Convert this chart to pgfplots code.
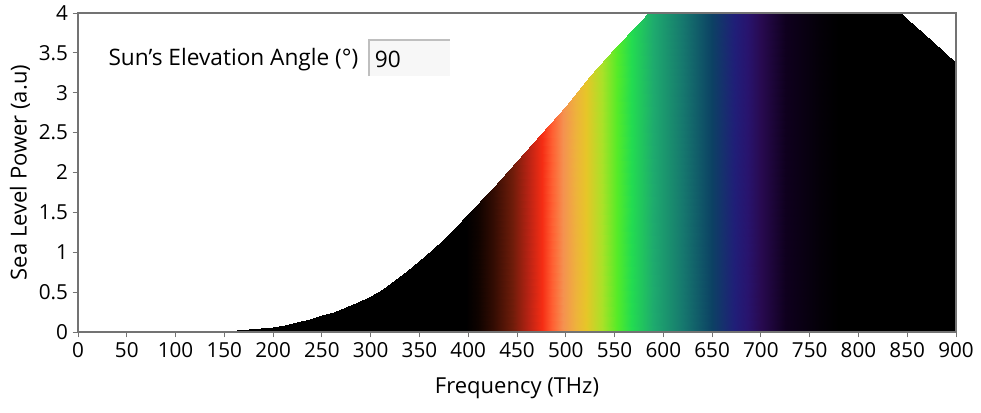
\documentclass[border=0pt]{standalone}
\usepackage{fontspec}
\setmainfont{Open Sans}
\usepackage{pgfplots}
\pgfplotsset{compat=1.18}
\begin{document}
\begin{tikzpicture}[x=0.75pt,y=0.75pt]
\useasboundingbox (-78,-81) rectangle (903,332);
\begin{axis}[
  at={(0,0)}, anchor=south west,
  scale only axis, width=658.5pt, height=239.25pt,
  xmin=0, xmax=900, ymin=0, ymax=4,
  xtick distance=50, ytick distance=0.5,
  xtick pos=bottom, ytick pos=left,
  tick align=outside, major tick length=4pt,
  tick style={black!55, line width=0.6pt},
  axis line style={draw=black!55, line width=0.8pt},
  tick label style={font=\fontsize{15.5}{18}\selectfont},
  /pgf/number format/assume math mode=true,
  xlabel={Frequency (THz)}, ylabel={Sea Level Power (a.u)},
  every axis x label/.style={at={(axis description cs:0.5,-0.1755)}, anchor=center, font=\fontsize{16.5}{19}\selectfont},
  every axis y label/.style={at={(axis description cs:-0.066,0.5)}, anchor=center, rotate=90, font=\fontsize{16.5}{19}\selectfont},
  axis on top,
  colormap={spectrum}{
    rgb255(0pt)=(0,0,0); rgb255(398pt)=(0,0,0); rgb255(410pt)=(15,3,0);
    rgb255(425pt)=(50,12,3); rgb255(445pt)=(110,28,10); rgb255(462pt)=(185,35,20);
    rgb255(476pt)=(245,45,20); rgb255(486pt)=(255,95,50); rgb255(497pt)=(245,145,80);
    rgb255(510pt)=(238,178,60); rgb255(521pt)=(230,198,40); rgb255(537pt)=(170,225,40);
    rgb255(552pt)=(85,235,40); rgb255(567pt)=(35,220,80); rgb255(590pt)=(30,170,110);
    rgb255(620pt)=(22,120,110); rgb255(650pt)=(12,65,100); rgb255(673pt)=(32,30,120);
    rgb255(686pt)=(40,20,110); rgb255(700pt)=(40,10,80); rgb255(725pt)=(15,0,30);
    rgb255(760pt)=(4,0,8); rgb255(780pt)=(0,0,0); rgb255(900pt)=(0,0,0)
  },
  point meta min=0, point meta max=900,
]
\addplot[surf, shader=interp, point meta=x, mesh/rows=2] coordinates {
(0,0) (50,0) (100,0) (140,0) (150,0) (175,0) (200,0) (212.5,0) (225,0) (237.5,0) (250,0) (262.5,0) (275,0) (287.5,0)
(300,0) (312.5,0) (325,0) (337.5,0) (350,0) (362.5,0) (375,0) (387.5,0) (400,0) (425,0) (450,0) (475,0) (500,0) (525,0)
(550,0) (575,0) (600,0) (650,0) (700,0) (750,0) (800,0) (825,0) (850,0) (875,0) (900,0)

(0,0) (50,0) (100,0) (140,0) (150,0.015) (175,0.035) (200,0.065) (212.5,0.092) (225,0.125) (237.5,0.164) (250,0.208) (262.5,0.257) (275,0.312) (287.5,0.377)
(300,0.452) (312.5,0.545) (325,0.65) (337.5,0.765) (350,0.89) (362.5,1.025) (375,1.17) (387.5,1.32) (400,1.48) (425,1.81) (450,2.14) (475,2.48) (500,2.84) (525,3.21)
(550,3.56) (575,3.88) (600,4.2) (650,4.7) (700,4.9) (750,4.8) (800,4.47) (825,4.2) (850,3.92) (875,3.65) (900,3.37)
};
\draw[black, line width=0.8pt] (rel axis cs:0,1) -- (rel axis cs:0,0) -- (rel axis cs:1,0);
\fill[black!3] (axis cs:298,3.21) rectangle (axis cs:381,3.66);
\draw[black!25, line width=1.2pt] (axis cs:298,3.21) -- (axis cs:298,3.66) -- (axis cs:381,3.66);
\node[anchor=west, font=\fontsize{17}{20}\selectfont, inner sep=0pt] at (axis cs:31,3.42) {Sun's Elevation Angle (°)};
\node[anchor=west, font=\fontsize{17}{20}\selectfont, inner sep=0pt] at (axis cs:304,3.42) {90};
\end{axis}
\end{tikzpicture}
\end{document}
